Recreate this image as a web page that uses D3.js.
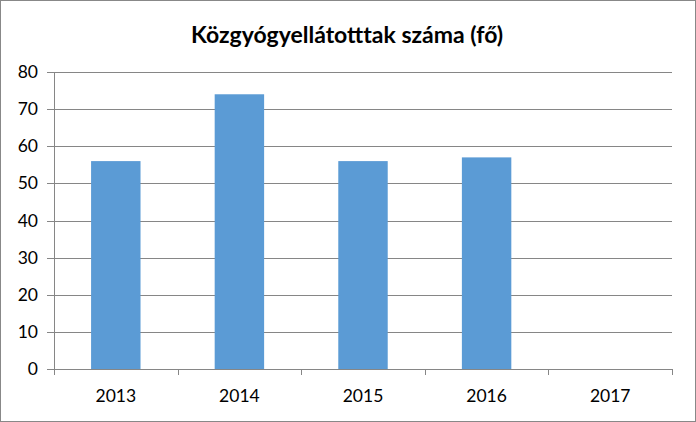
<!DOCTYPE html>
<html><head><meta charset="utf-8">
<script src="https://cdn.jsdelivr.net/npm/d3@7"></script>
<style>body{margin:0;background:#fff}svg{display:block}</style>
</head><body>
<svg id="c" width="696" height="422"></svg>
<script>
const categories = ["2013","2014","2015","2016","2017"];
const values = [56, 74, 56, 57, null];
const yTicks = [0,10,20,30,40,50,60,70,80];
const title = "Közgyógyellátotttak száma (fő)";

const svg = d3.select("#c");
const W = 696, H = 422;
const m = {left:54, right:24, top:72, bottom:53};
const font = "Lato, 'Open Sans', sans-serif";

svg.append("rect").attr("x",0.5).attr("y",0.5).attr("width",W-1).attr("height",H-1)
  .attr("fill","#fff").attr("stroke","#888").attr("stroke-width",1);

svg.append("text").attr("x",347).attr("y",43).attr("text-anchor","middle")
  .attr("font-family",font).attr("font-weight","bold").attr("font-size",23)
  .attr("fill","#000").text(title);

const x = d3.scaleBand().domain(categories).range([m.left, W-m.right]).paddingInner(0.6).paddingOuter(0.3);
const xb = d3.scaleBand().domain(categories).range([m.left, W-m.right]);
const y = d3.scaleLinear().domain([0,80]).range([H-m.bottom, m.top]);

// gridlines
svg.append("g").selectAll("line").data(yTicks).join("line")
  .attr("x1",m.left-7).attr("x2",W-m.right)
  .attr("y1",d=>Math.round(y(d))+0.5).attr("y2",d=>Math.round(y(d))+0.5)
  .attr("stroke","#868686").attr("stroke-width",1);

// y axis line
svg.append("line").attr("x1",m.left+0.5).attr("x2",m.left+0.5)
  .attr("y1",m.top).attr("y2",H-m.bottom).attr("stroke","#868686");

// bars
svg.append("g").selectAll("rect").data(categories.map((c,i)=>({c,v:values[i]})).filter(d=>d.v!=null))
  .join("rect")
  .attr("x",d=>x(d.c)).attr("width",x.bandwidth())
  .attr("y",d=>y(d.v)).attr("height",d=>y(0)-y(d.v))
  .attr("fill","#5B9BD5");

// x ticks
const bounds = categories.map(c=>xb(c)).concat([W-m.right]);
svg.append("g").selectAll("line").data(bounds).join("line")
  .attr("x1",d=>Math.round(d)+0.5).attr("x2",d=>Math.round(d)+0.5)
  .attr("y1",y(0)).attr("y2",y(0)+6).attr("stroke","#868686");

// x labels
svg.append("g").selectAll("text").data(categories).join("text")
  .attr("x",d=>xb(d)+xb.bandwidth()/2).attr("y",402).attr("text-anchor","middle")
  .attr("font-family",font).attr("font-size",17.5).attr("fill","#000").text(d=>d);

// y labels
svg.append("g").selectAll("text").data(yTicks).join("text")
  .attr("x",38).attr("y",d=>y(d)+6).attr("text-anchor","end")
  .attr("font-family",font).attr("font-size",17.5).attr("fill","#000").text(d=>d);
</script>
</body></html>
